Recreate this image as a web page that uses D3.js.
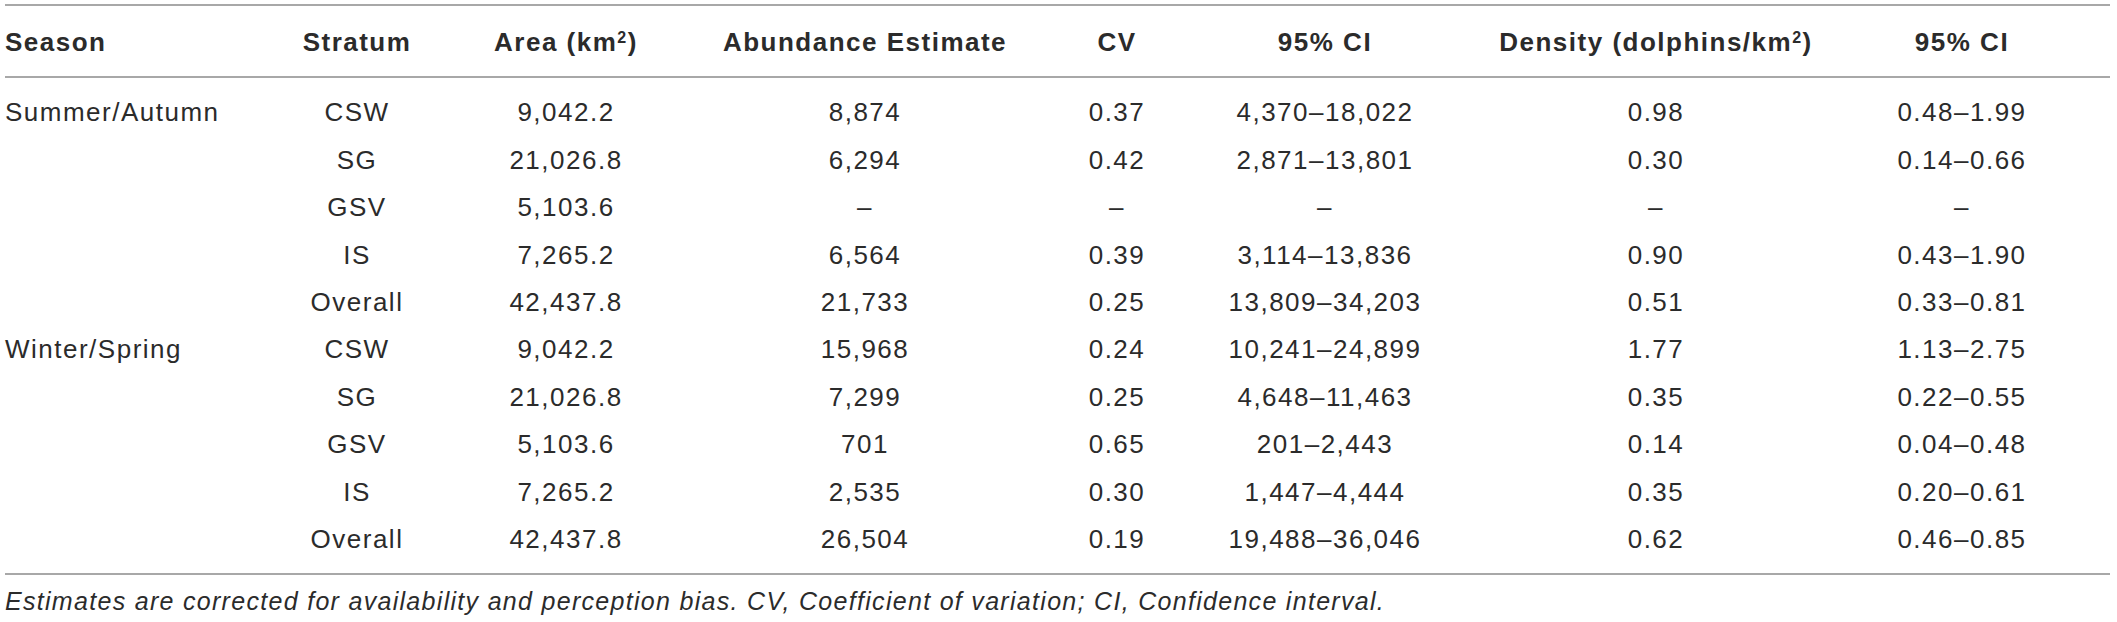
<!DOCTYPE html>
<html lang="en">

<head>
    <meta charset="UTF-8">
    <title>Dolphin abundance table</title>
    <style>
        html, body {
            margin: 0;
            padding: 0;
            background: #fff;
        }

        svg text {
            font-family: "Liberation Sans", Arial, Helvetica, sans-serif;
            letter-spacing: 1.5px;
        }
    </style>
</head>

<body>
    <svg id="chart" width="2117" height="622"></svg>
    <script src="https://d3js.org/d3.v7.min.js"></script>

    <script>
        // 表格数据
        const headers = ["Season", "Stratum", "Area (km2)", "Abundance Estimate", "CV", "95% CI", "Density (dolphins/km2)", "95% CI"];
        const seasons = ["Summer/Autumn", "", "", "", "", "Winter/Spring", "", "", "", ""];
        const strata = ["CSW", "SG", "GSV", "IS", "Overall", "CSW", "SG", "GSV", "IS", "Overall"];
        const area = ["9,042.2", "21,026.8", "5,103.6", "7,265.2", "42,437.8", "9,042.2", "21,026.8", "5,103.6", "7,265.2", "42,437.8"];
        const abundance = ["8,874", "6,294", "–", "6,564", "21,733", "15,968", "7,299", "701", "2,535", "26,504"];
        const cv = ["0.37", "0.42", "–", "0.39", "0.25", "0.24", "0.25", "0.65", "0.30", "0.19"];
        const abundanceCI = ["4,370–18,022", "2,871–13,801", "–", "3,114–13,836", "13,809–34,203", "10,241–24,899", "4,648–11,463", "201–2,443", "1,447–4,444", "19,488–36,046"];
        const density = ["0.98", "0.30", "–", "0.90", "0.51", "1.77", "0.35", "0.14", "0.35", "0.62"];
        const densityCI = ["0.48–1.99", "0.14–0.66", "–", "0.43–1.90", "0.33–0.81", "1.13–2.75", "0.22–0.55", "0.04–0.48", "0.20–0.61", "0.46–0.85"];
        const footnote = "Estimates are corrected for availability and perception bias. CV, Coefficient of variation; CI, Confidence interval.";

        const columns = [seasons, strata, area, abundance, cv, abundanceCI, density, densityCI];

        const svg = d3.select("#chart");
        const width = +svg.attr("width");
        const textColor = "#2b2b2b";
        const ruleColor = "#a8a8a8";

        // 列的位置 (Season 左对齐，其余居中)
        const colX = d3.scaleOrdinal()
            .domain(d3.range(headers.length))
            .range([5, 357, 566, 865, 1117, 1325, 1656, 1962]);
        const anchor = i => i === 0 ? "start" : "middle";

        // 行的位置
        const rowY = d3.scaleBand()
            .domain(d3.range(strata.length))
            .range([88.3, 562.3]);

        // 横线
        const rules = [5, 77, 574];
        svg.selectAll(".rule").data(rules).join("line")
            .attr("class", "rule")
            .attr("x1", 5)
            .attr("x2", width - 7)
            .attr("y1", d => d)
            .attr("y2", d => d)
            .attr("stroke", ruleColor)
            .attr("stroke-width", 2);

        // 表头
        const head = svg.selectAll(".head").data(headers).join("text")
            .attr("class", "head")
            .attr("x", (d, i) => colX(i))
            .attr("y", 42)
            .attr("dy", "0.36em")
            .attr("text-anchor", (d, i) => anchor(i))
            .attr("font-size", 26)
            .attr("font-weight", "bold")
            .attr("fill", textColor);

        head.each(function (d) {
            const t = d3.select(this);
            const m = d.match(/^(.*km)2(\))$/);
            if (m) {
                t.append("tspan").text(m[1]);
                t.append("tspan").attr("baseline-shift", "super").attr("font-size", 16).text("2");
                t.append("tspan").text(m[2]);
            } else {
                t.text(d);
            }
        });

        // 单元格
        columns.forEach((col, ci) => {
            svg.selectAll(".cell-" + ci).data(col).join("text")
                .attr("class", "cell-" + ci)
                .attr("x", colX(ci))
                .attr("y", (d, i) => rowY(i) + rowY.bandwidth() / 2)
                .attr("dy", "0.36em")
                .attr("text-anchor", anchor(ci))
                .attr("font-size", 26)
                .attr("fill", textColor)
                .text(d => d);
        });

        // 脚注
        svg.append("text")
            .attr("x", 5)
            .attr("y", 601)
            .attr("dy", "0.36em")
            .attr("font-size", 25)
            .attr("font-style", "italic")
            .attr("fill", textColor)
            .style("letter-spacing", "1.3px")
            .text(footnote);
    </script>
</body>

</html>
